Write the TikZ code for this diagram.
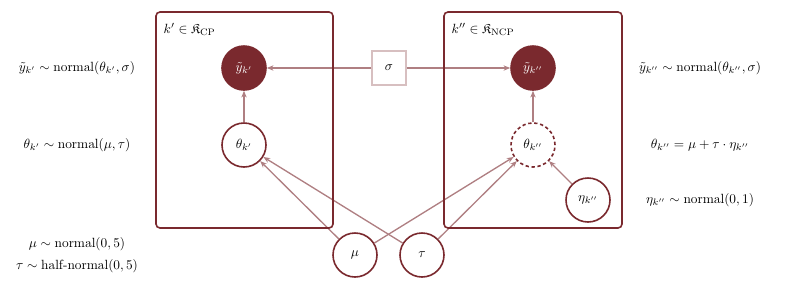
\documentclass[tikz,border=0pt]{standalone}
\usepackage{amssymb}
\usetikzlibrary{arrows.meta}
\definecolor{plum}{RGB}{122,41,46}

\begin{document}
\begin{tikzpicture}[x=0.75pt,y=-0.75pt,
  latent/.style={circle, draw=plum, line width=1.2pt, minimum size=33pt, inner sep=0pt, fill=white},
  observed/.style={circle, draw=plum, fill=plum, text=white, line width=1.2pt, minimum size=33pt, inner sep=0pt},
  derived/.style={latent, dash pattern=on 2.5pt off 2pt},
  fixedparam/.style={rectangle, draw=plum!30, line width=1.4pt, minimum size=25pt, inner sep=0pt, fill=white},
  edge/.style={draw=plum!60, line width=1pt, -{Stealth[length=5pt,width=4pt]}},
  plate/.style={draw=plum, line width=1.2pt, rounded corners=3pt}]
\useasboundingbox (0,0) rectangle (800,290);
% nodes
\node[observed] (ycp) at (244,68) {$\tilde{y}_{k'}$};
\node[observed] (yncp) at (533,68) {$\tilde{y}_{k''}$};
\node[fixedparam] (sigma) at (389,68) {$\sigma$};
\node[latent] (thetacp) at (244,145) {$\theta_{k'}$};
\node[derived] (thetancp) at (533,145) {$\theta_{k''}$};
\node[latent] (eta) at (588,200) {$\eta_{k''}$};
\node[latent] (mu) at (355,255) {$\mu$};
\node[latent] (tau) at (422,255) {$\tau$};
% edges
\draw[edge] (sigma) -- (ycp);
\draw[edge] (sigma) -- (yncp);
\draw[edge] (thetacp) -- (ycp);
\draw[edge] (thetancp) -- (yncp);
\draw[edge] (mu) -- (thetacp);
\draw[edge] (tau) -- (thetacp);
\draw[edge] (mu) -- (thetancp);
\draw[edge] (tau) -- (thetancp);
\draw[edge] (eta) -- (thetancp);
% plates
\draw[plate] (156,12) rectangle (333,228);
\draw[plate] (444,12) rectangle (622,228);
\node[anchor=west] (platecp) at (159,29) {$k' \in \mathfrak{K}_{\mathrm{CP}}$};
\node[anchor=west] (platencp) at (447,29) {$k'' \in \mathfrak{K}_{\mathrm{NCP}}$};
% model statements
\node (eqycp) at (77,68) {$\tilde{y}_{k'} \sim \mathrm{normal}(\theta_{k'}, \sigma)$};
\node (eqthetacp) at (77,145) {$\theta_{k'} \sim \mathrm{normal}(\mu, \tau)$};
\node (eqmu) at (77,244) {$\mu \sim \mathrm{normal}(0, 5)$};
\node (eqtau) at (77,266) {$\tau \sim \mbox{half-normal}(0, 5)$};
\node (eqyncp) at (700,68) {$\tilde{y}_{k''} \sim \mathrm{normal}(\theta_{k''}, \sigma)$};
\node (eqthetancp) at (700,145) {$\theta_{k''} = \mu + \tau \cdot \eta_{k''}$};
\node (eqeta) at (700,200) {$\eta_{k''} \sim \mathrm{normal}(0, 1)$};
\end{tikzpicture}
\end{document}
